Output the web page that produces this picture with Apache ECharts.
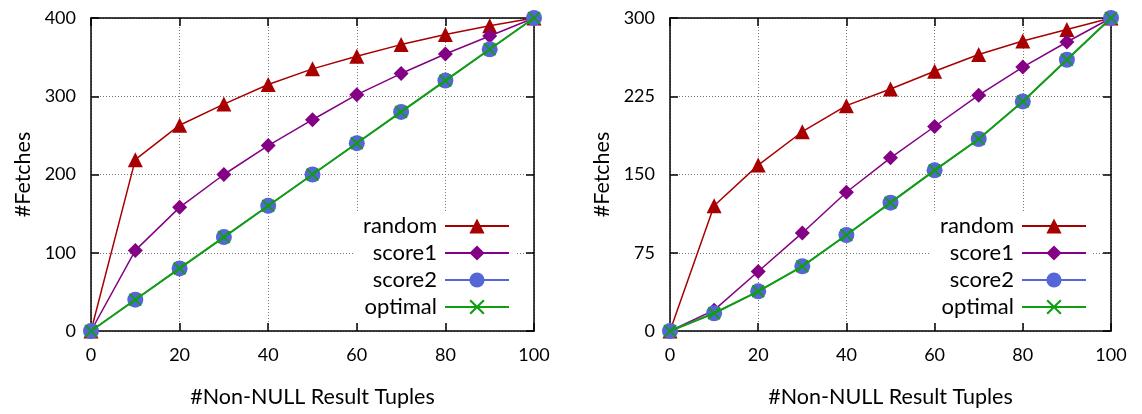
<!DOCTYPE html>
<html>
<head>
<meta charset="utf-8">
<script src="https://cdn.jsdelivr.net/npm/echarts@6/dist/echarts.min.js"></script>
<style>
  html, body { margin: 0; padding: 0; background: #fff; }
  #chart { width: 1142px; height: 414px; }
</style>
</head>
<body>
<div id="chart"></div>
<script>
// Result tuples retrieved (x values shared by every series)
const tuples = [0, 10, 20, 30, 40, 50, 60, 70, 80, 90, 100];

// Left panel: fetches per strategy
const leftRandom  = [0, 219, 263, 290, 315, 335, 351, 366, 379, 390, 400];
const leftScore1  = [0, 103, 158, 200, 237, 270, 302, 329, 354, 377, 400];
const leftScore2  = [0, 40, 80, 120, 160, 200, 240, 280, 320, 360, 400];
const leftOptimal = [0, 40, 80, 120, 160, 200, 240, 280, 320, 360, 400];

// Right panel: fetches per strategy
const rightRandom  = [0, 120, 159, 191, 216, 232, 249, 265, 278, 289, 300];
const rightScore1  = [0, 20, 57, 94, 133, 166, 196, 226, 253, 277, 300];
const rightScore2  = [0, 17, 38, 62, 92, 123, 154, 184, 220, 260, 300];
const rightOptimal = [0, 17, 38, 62, 92, 123, 154, 184, 220, 260, 300];

// Axis ranges and steps
const xMax = 100, xStep = 20;
const leftYMax = 400, leftYStep = 100;
const rightYMax = 300, rightYStep = 75;

const seriesNames = ['random', 'score1', 'score2', 'optimal'];
const xTitle = '#Non-NULL Result Tuples';
const yTitle = '#Fetches';

const FONT = 'Lato';
const colors = {
  random: '#a80000',
  score1: '#840084',
  score2: '#5566d6',
  optimal: '#119e11'
};
const crossPath = 'path://M0,1 L1,0 L5,4 L9,0 L10,1 L6,5 L10,9 L9,10 L5,6 L1,10 L0,9 L4,5 Z';
const symbols = {
  random:  { symbol: 'triangle', size: 15 },
  score1:  { symbol: 'diamond',  size: 15 },
  score2:  { symbol: 'circle',   size: 16 },
  optimal: { symbol: crossPath,  size: 13 }
};

function pairs(ys) { return tuples.map((x, i) => [x, ys[i]]); }

const tickStyle = { color: '#000', fontFamily: FONT, fontSize: 18 };
const titleStyle = { color: '#000', fontFamily: FONT, fontSize: 21.5 };

const frameLine = { show: true, onZero: false, lineStyle: { color: '#000', width: 1.5 } };
const frameTick = { show: true, inside: true, length: 8, lineStyle: { color: '#000', width: 1.5 } };
const dottedGrid = { show: true, lineStyle: { color: '#777', type: [1, 2], width: 1 } };

function mainX(gi) {
  return {
    type: 'value', gridIndex: gi, min: 0, max: xMax, interval: xStep,
    name: xTitle, nameLocation: 'middle', nameGap: 55,
    nameTextStyle: titleStyle,
    axisLine: frameLine, axisTick: frameTick,
    axisLabel: Object.assign({ margin: 15 }, tickStyle),
    splitLine: dottedGrid
  };
}
function topX(gi) {
  return {
    type: 'value', gridIndex: gi, position: 'top', min: 0, max: xMax, interval: xStep,
    axisLine: frameLine, axisTick: frameTick,
    axisLabel: { show: false }, splitLine: { show: false }
  };
}
function mainY(gi, max, step) {
  return {
    type: 'value', gridIndex: gi, min: 0, max: max, interval: step,
    name: yTitle, nameLocation: 'middle', nameGap: 57, nameRotate: 90,
    nameTextStyle: titleStyle,
    axisLine: frameLine, axisTick: frameTick,
    axisLabel: Object.assign({ margin: 15 }, tickStyle),
    splitLine: dottedGrid
  };
}
function rightY(gi, max, step) {
  return {
    type: 'value', gridIndex: gi, position: 'right', min: 0, max: max, interval: step,
    axisLine: frameLine, axisTick: frameTick,
    axisLabel: { show: false }, splitLine: { show: false }
  };
}

function makeSeries(gi, dataSets) {
  return seriesNames.map((name, k) => ({
    name: name,
    type: 'line',
    xAxisIndex: gi * 2,
    yAxisIndex: gi * 2,
    data: pairs(dataSets[k]),
    symbol: symbols[name].symbol,
    symbolSize: symbols[name].size,
    showAllSymbol: true,
    animation: false,
    z: 3 + k,
    lineStyle: { color: colors[name], width: name === 'optimal' ? 2 : 1.5 },
    itemStyle: { color: colors[name] },
    emphasis: { disabled: true }
  }));
}

function makeLegend(rightPx) {
  return {
    orient: 'vertical',
    align: 'right',
    right: rightPx,
    top: 211,
    padding: [4, 6, 4, 10],
    backgroundColor: '#fff',
    itemWidth: 64,
    itemHeight: 19,
    itemGap: 5,
    z: 10,
    selectedMode: false,
    textStyle: { color: '#000', fontFamily: FONT, fontSize: 22, padding: [0, 3, 0, 0] },
    data: seriesNames
  };
}

const chart = echarts.init(document.getElementById('chart'), null, { renderer: 'canvas' });

chart.setOption({
  backgroundColor: '#fff',
  animation: false,
  grid: [
    { left: 91, right: 1142 - 534, top: 18, bottom: 414 - 331 },
    { left: 670, right: 1142 - 1111, top: 18, bottom: 414 - 331 }
  ],
  xAxis: [mainX(0), topX(0), mainX(1), topX(1)],
  yAxis: [mainY(0, leftYMax, leftYStep), rightY(0, leftYMax, leftYStep),
          mainY(1, rightYMax, rightYStep), rightY(1, rightYMax, rightYStep)],
  legend: [makeLegend(1142 - 510 - 6), makeLegend(1142 - 1087 - 6)],
  series: makeSeries(0, [leftRandom, leftScore1, leftScore2, leftOptimal])
    .concat(makeSeries(1, [rightRandom, rightScore1, rightScore2, rightOptimal]))
});
</script>
</body>
</html>
